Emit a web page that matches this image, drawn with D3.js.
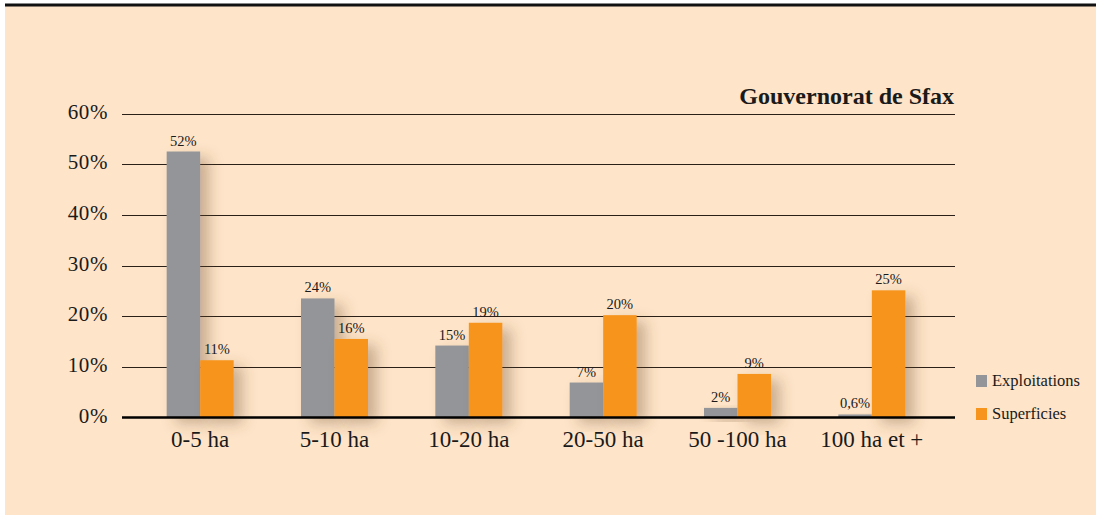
<!DOCTYPE html>
<html>
<head>
<meta charset="utf-8">
<script src="https://cdn.jsdelivr.net/npm/d3@7"></script>
<style>
  html, body { margin: 0; padding: 0; background: #fff; }
  svg { display: block; }
  text { font-family: "Liberation Serif", "DejaVu Serif", serif; fill: #1a1a1a; }
</style>
</head>
<body>
<svg id="chart" width="1096" height="516"></svg>
<script>
// data
const categories = ["0-5 ha", "5-10 ha", "10-20 ha", "20-50 ha", "50 -100 ha", "100 ha et +"];
const exploitations = [52.5, 23.5, 14.2, 6.9, 1.9, 0.6];
const superficies = [11.3, 15.5, 18.7, 20.2, 8.6, 25.1];
const exploitLabels = ["52%", "24%", "15%", "7%", "2%", "0,6%"];
const superfLabels = ["11%", "16%", "19%", "20%", "9%", "25%"];
const yTicks = [0, 10, 20, 30, 40, 50, 60];
const seriesNames = ["Exploitations", "Superficies"];
const seriesColors = ["#939598", "#f7941d"];

const svg = d3.select("#chart");

// panel background and top rule
svg.append("rect").attr("x", 5).attr("y", 6).attr("width", 1091).attr("height", 509).attr("fill", "#fee4c8");
svg.append("rect").attr("x", 5).attr("y", 3.5).attr("width", 1091).attr("height", 3).attr("fill", "#111");

const defs = svg.append("defs");
const f = defs.append("filter").attr("id", "shadow")
    .attr("x", "-50%").attr("y", "-20%").attr("width", "250%").attr("height", "160%");
f.append("feDropShadow").attr("dx", 9).attr("dy", 6).attr("stdDeviation", 7)
    .attr("flood-color", "#6b4a2a").attr("flood-opacity", 0.35);

const x = d3.scaleBand().domain(categories.map((d, i) => i)).range([133, 939]);
const y = d3.scaleLinear().domain([0, 60]).range([417.5, 113.5]);

const bw = 33.5;
const rows = categories.map((c, i) => ({
    cat: c, i,
    vals: [exploitations[i], superficies[i]],
    labs: [exploitLabels[i], superfLabels[i]]
}));

// gridlines
svg.append("g")
    .selectAll("line")
    .data(yTicks.filter(d => d > 0))
    .join("line")
    .attr("x1", 122).attr("x2", 955)
    .attr("y1", d => Math.round(y(d)) + 0.5).attr("y2", d => Math.round(y(d)) + 0.5)
    .attr("stroke", "#2a2018").attr("stroke-width", 1.2);

// y tick labels
svg.append("g")
    .selectAll("text")
    .data(yTicks)
    .join("text")
    .attr("x", 108).attr("y", d => y(d) + 5)
    .attr("text-anchor", "end")
    .attr("font-size", 21)
    .attr("letter-spacing", 0.6)
    .text(d => d + "%");

// bars
const groups = svg.append("g").selectAll("g")
    .data(rows)
    .join("g")
    .attr("transform", d => `translate(${x(d.i) + x.bandwidth() / 2},0)`);

groups.selectAll("rect")
    .data(d => d.vals.map((v, k) => ({ v, k })))
    .join("rect")
    .attr("x", d => d.k === 0 ? -bw : 0)
    .attr("width", bw)
    .attr("y", d => y(d.v))
    .attr("height", d => y(0) - y(d.v))
    .attr("fill", d => seriesColors[d.k])
    .attr("filter", "url(#shadow)");

groups.selectAll("text")
    .data(d => d.vals.map((v, k) => ({ v, k, lab: d.labs[k] })))
    .join("text")
    .attr("x", d => d.k === 0 ? -bw / 2 : bw / 2)
    .attr("y", d => y(d.v) - 6)
    .attr("text-anchor", "middle")
    .attr("font-size", 14.5)
    .text(d => d.lab);

// zero axis
svg.append("line")
    .attr("x1", 122).attr("x2", 955).attr("y1", y(0)).attr("y2", y(0))
    .attr("stroke", "#000").attr("stroke-width", 2.5);

// x labels
svg.append("g")
    .selectAll("text")
    .data(rows)
    .join("text")
    .attr("x", d => x(d.i) + x.bandwidth() / 2)
    .attr("y", 447)
    .attr("text-anchor", "middle")
    .attr("font-size", 23)
    .text(d => d.cat);

// title
svg.append("text")
    .attr("x", 954).attr("y", 104)
    .attr("text-anchor", "end")
    .attr("font-size", 24).attr("font-weight", "bold")
    .text("Gouvernorat de Sfax");

// legend
const leg = svg.append("g").selectAll("g")
    .data(seriesNames)
    .join("g")
    .attr("transform", (d, i) => `translate(976,${375 + i * 33})`);
leg.append("rect").attr("width", 11).attr("height", 12).attr("fill", (d, i) => seriesColors[i]);
leg.append("text").attr("x", 16).attr("y", 11).attr("font-size", 16.5).text(d => d);
</script>
</body>
</html>
